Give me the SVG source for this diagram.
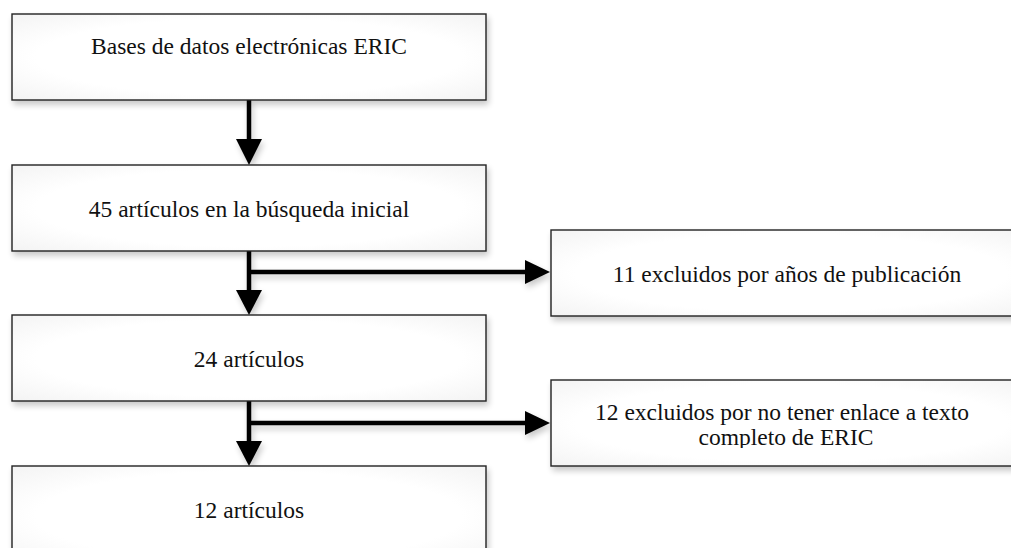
<svg xmlns="http://www.w3.org/2000/svg" width="1011" height="548" viewBox="0 0 1011 548">
<style>
.box{fill:url(#g);stroke:#222;stroke-width:1.4;filter:url(#sh)}
.t{font-family:"Liberation Serif","Times New Roman",serif;font-size:23.5px;fill:#111;text-anchor:middle}
.ln{fill:none;stroke:#000;stroke-width:4.5}
.hd{fill:#000}
</style>
<defs>
<radialGradient id="g" cx="50%" cy="50%" r="75%">
<stop offset="0.6" stop-color="#ffffff"/>
<stop offset="1" stop-color="#f1f1f1"/>
</radialGradient>
<filter id="sh" x="-10%" y="-20%" width="130%" height="160%">
<feGaussianBlur in="SourceAlpha" stdDeviation="3"/>
<feOffset dx="2" dy="4" result="b"/>
<feComponentTransfer><feFuncA type="linear" slope="0.22"/></feComponentTransfer>
<feMerge><feMergeNode/><feMergeNode in="SourceGraphic"/></feMerge>
</filter>
<clipPath id="c5"><rect x="551" y="380" width="480" height="68"/></clipPath>
</defs>
<rect width="1011" height="548" fill="#fff"/>
<g id="connectors" filter="url(#sh)">
<path class="ln" d="M249 100V140"/>
<polygon class="hd" points="236,139 262,139 249,165"/>
<path class="ln" d="M249 251V291M247 272H526"/>
<polygon class="hd" points="236,290 262,290 249,315"/>
<polygon class="hd" points="525,260 525,284 550,272"/>
<path class="ln" d="M249 401V442M247 423H526"/>
<polygon class="hd" points="236,441 262,441 249,466"/>
<polygon class="hd" points="525,411 525,435 550,423"/>
</g>
<g id="n1"><rect class="box" x="12" y="14" width="474" height="86"/><text class="t" x="249" y="54">Bases de datos electrónicas ERIC</text></g>
<g id="n2"><rect class="box" x="12" y="165" width="474" height="86"/><text class="t" x="249" y="217">45 artículos en la búsqueda inicial</text></g>
<g id="n3"><rect class="box" x="551" y="230" width="480" height="86"/><text class="t" x="787" y="282">11 excluidos por años de publicación</text></g>
<g id="n4"><rect class="box" x="12" y="315" width="474" height="86"/><text class="t" x="249" y="367">24 artículos</text></g>
<g id="n5"><rect class="box" x="551" y="380" width="480" height="86"/><g clip-path="url(#c5)"><text class="t" x="782" y="420">12 excluidos por no tener enlace a texto</text><text class="t" x="786" y="445">completo de ERIC</text></g></g>
<g id="n6"><rect class="box" x="12" y="466" width="474" height="100"/><text class="t" x="249" y="518">12 artículos</text></g>
</svg>
